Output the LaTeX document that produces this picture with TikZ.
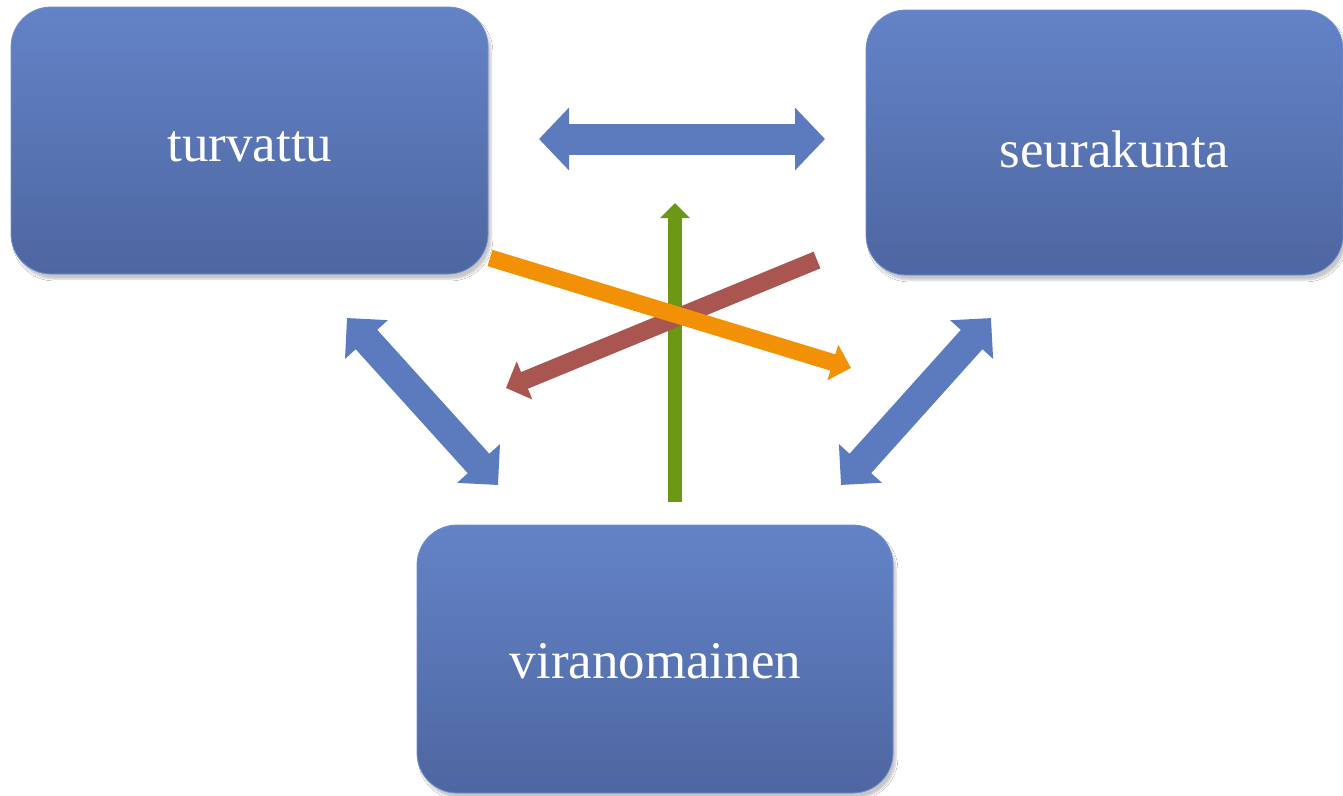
\documentclass[tikz,border=0pt]{standalone}
\usepackage{fontspec}
\setmainfont{Liberation Serif}
\usetikzlibrary{arrows.meta,shadows.blur}
\definecolor{boxtop}{RGB}{99,131,199}
\definecolor{boxbot}{RGB}{78,102,161}
\definecolor{boxedge}{RGB}{112,142,206}
\definecolor{arrblue}{RGB}{92,122,190}
\definecolor{arrgreen}{RGB}{108,152,22}
\definecolor{arrorange}{RGB}{242,145,5}
\definecolor{arrred}{RGB}{170,86,80}
\pgfdeclareradialshading{bgshade}{\pgfpoint{0bp}{0bp}}{color(0bp)=(white); color(38bp)=(white); color(72bp)=(black!5)}
\begin{document}
\begin{tikzpicture}[x=1pt,y=-1pt,
  box/.style={rectangle, rounded corners=40pt, minimum width=477pt, minimum height=267pt,
    top color=boxtop, bottom color=boxbot, draw=boxedge, line width=0.8pt, inner sep=0pt,
    blur shadow={shadow xshift=3pt, shadow yshift=-5pt, shadow opacity=22, shadow blur steps=6}},
  label/.style={text=white, anchor=base, inner sep=0pt, font=\fontsize{53}{60}\selectfont},
  bluearrow/.style={draw=arrblue, line width=29pt,
    {Triangle[width=56pt,length=29pt]}-{Triangle[width=56pt,length=29pt]}},
  hbluearrow/.style={draw=arrblue, line width=31pt,
    {Triangle[width=61pt,length=30pt]}-{Triangle[width=61pt,length=30pt]}},
  greenarrow/.style={draw=arrgreen, line width=14pt, -{Triangle[width=29pt,length=15pt]}},
  redarrow/.style={draw=arrred, line width=18pt, -{Triangle[width=40pt,length=20pt]}},
  orangearrow/.style={draw=arrorange, line width=17pt, -{Triangle[width=36pt,length=19pt]}}
]
\useasboundingbox (0,0) rectangle (1343,795);
\shade[shading=bgshade] (0,0) rectangle (1343,795);

% boxes
\node[box] (tur) at (249.5,140.5) {};
\node[box, minimum height=265pt] (seu) at (1104.5,142.5) {};
\node[box, minimum width=476pt, minimum height=268pt] (vir) at (655,659) {};

% labels
\node[label] (turt) at (250,161) {turvattu};
\node[label] (seut) at (1114.5,167) {seurakunta};
\node[label] (virt) at (655.5,678) {viranomainen};

% arrow end points
\coordinate (h1) at (539,139);
\coordinate (h2) at (825,139);
\coordinate (l1) at (347,318);
\coordinate (l2) at (498,485);
\coordinate (r1) at (991,318);
\coordinate (r2) at (841,485);
\coordinate (g1) at (675,502);
\coordinate (g2) at (675,203);
\coordinate (rd1) at (817,260);
\coordinate (rd2) at (506,388);
\coordinate (o1) at (490,258);
\coordinate (o2) at (851,368);

% arrows
\draw[hbluearrow] (h1) -- (h2);
\draw[bluearrow] (l1) -- (l2);
\draw[bluearrow] (r1) -- (r2);
\draw[greenarrow] (g1) -- (g2);
\draw[redarrow] (rd1) -- (rd2);
\draw[orangearrow] (o1) -- (o2);
\end{tikzpicture}
\end{document}
